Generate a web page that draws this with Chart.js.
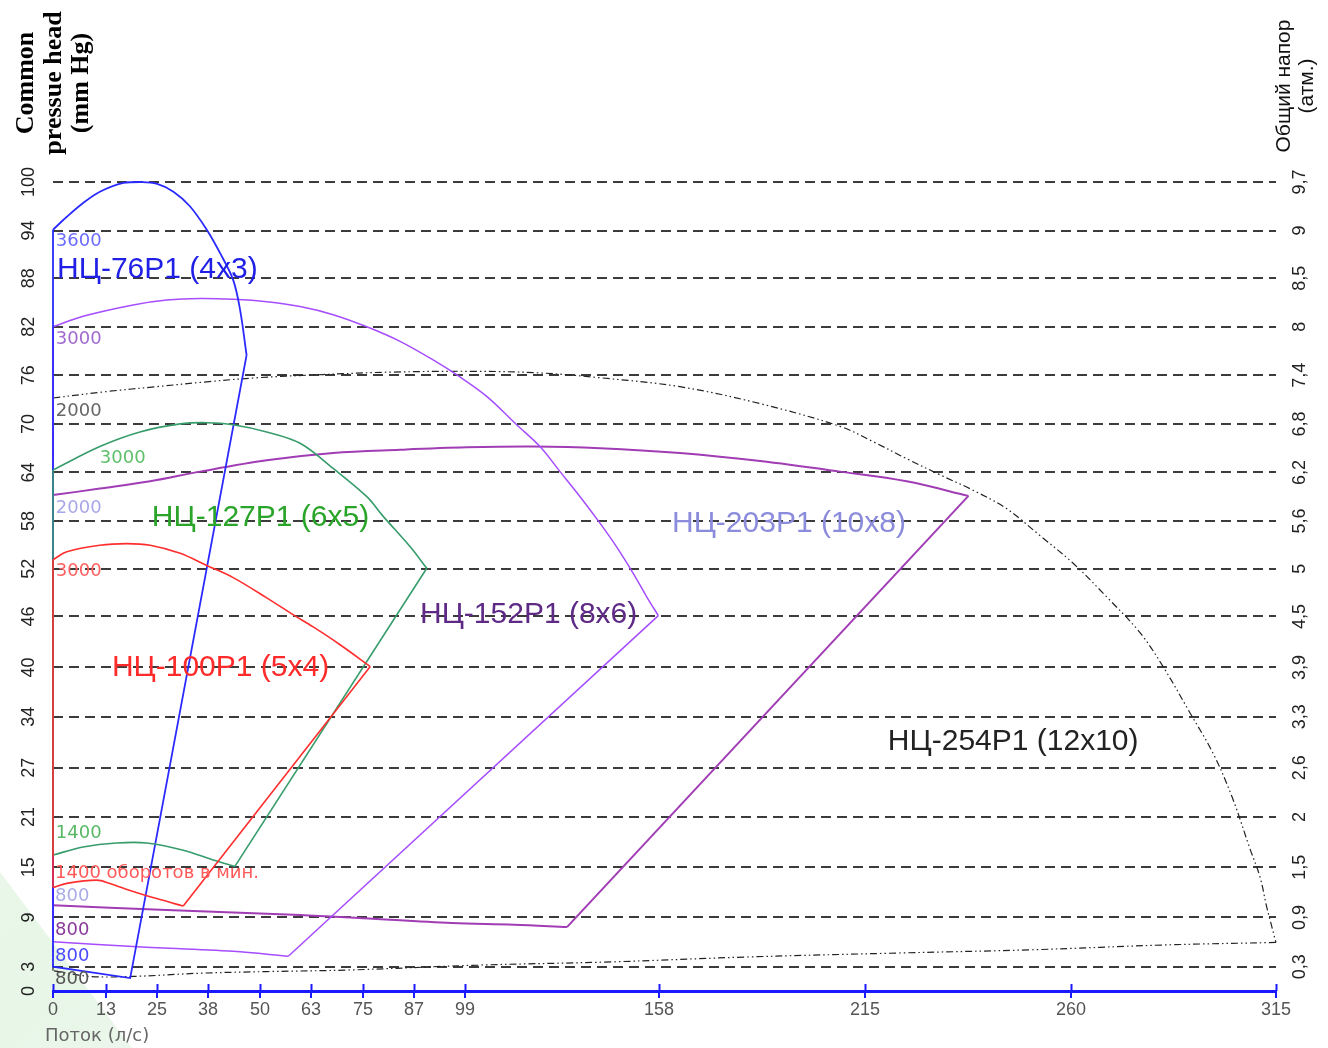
<!DOCTYPE html>
<html>
<head>
<meta charset="utf-8">
<script src="https://cdn.jsdelivr.net/npm/chart.js@4.4.1/dist/chart.umd.min.js"></script>
<style>
html,body{margin:0;padding:0;background:#fff;}
#wrap{position:relative;width:1328px;height:1048px;}
</style>
</head>
<body>
<div id="wrap"><canvas id="c" width="1328" height="1048"></canvas></div>
<script>
// ---------- axis ticks ----------
const X_TICKS = [0, 13, 25, 38, 50, 63, 75, 87, 99, 158, 215, 260, 315];
// where each flow tick sits along the (non-uniform) flow axis, 0..1
const X_TICK_AT = [0, 0.0433, 0.0850, 0.1267, 0.1693, 0.2110, 0.2535, 0.2952, 0.3369, 0.4955, 0.6639, 0.8324, 1];
const Y_TICKS = [0, 3, 9.1, 15.3, 21.5, 27.6, 33.9, 40, 46.3, 52.2, 58.1, 64.1, 70.1, 76.1, 82.1, 88.1, 94, 100];
const Y_LEFT_LABELS = ['0','3','9','15','21','27','34','40','46','52','58','64','70','76','82','88','94','100'];
const Y_RIGHT_LABELS = ['0,3','0,9','1,5','2','2,6','3,3','3,9','4,5','5','5,6','6,2','6,8','7,4','8','8,5','9','9,7'];

// ---------- pump envelopes: flow (l/s) and head (mm Hg), closed outlines ----------
const NC76_FLOW = [0, 3.4, 7.4, 11.5, 17.1, 21.0, 24.9, 29.2, 33.4, 37.7, 40.8, 43.8, 45.4, 46.9, 18.7, 0, 0];
const NC76_HEAD = [94.1, 95.7, 97.4, 98.8, 99.9, 100, 99.8, 98.8, 97.0, 94.1, 91.2, 87.9, 84.2, 78.6, 1.6, 3.0, 94.1];

const NC100_FLOW = [0, 3.4, 11.5, 17.9, 23.4, 30.9, 37.7, 43.8, 51.7, 58.5, 63.5, 69.7, 76.7, 31.7, 25.8, 19.4, 13.9, 10.7, 3.4, 0, 0];
const NC100_HEAD = [53.3, 54.3, 55.1, 55.3, 55.1, 54.1, 52.6, 51.1, 48.6, 46.5, 45.0, 42.8, 40.1, 10.5, 11.3, 12.3, 13.3, 13.7, 13.3, 12.8, 53.3];

const NC127_FLOW = [0, 11.5, 21.0, 30.9, 37.7, 43.8, 51.7, 60.2, 68.1, 75.9, 79.7, 86.1, 90.0, 44.2, 39.2, 31.7, 22.6, 15.5, 7.4, 0, 0];
const NC127_HEAD = [64.4, 67.3, 69.1, 70.1, 70.25, 70.0, 69.1, 67.7, 64.6, 61.1, 58.7, 54.9, 52.25, 15.4, 16.2, 17.4, 18.3, 18.3, 17.8, 16.8, 64.4];

const NC152_FLOW = [0, 7.4, 19.4, 27.5, 36.0, 43.8, 51.7, 60.2, 68.1, 75.9, 83.7, 91.5, 97.8, 105.6, 114.7, 121.8, 127.9, 134.0, 140.1, 145.1, 150.2, 154.3, 157.8, 57.2, 43.8, 19.4, 0, 0];
const NC152_HEAD = [82.1, 83.4, 84.8, 85.4, 85.6, 85.5, 85.2, 84.6, 83.6, 82.1, 80.3, 78.0, 75.9, 73.5, 70.0, 67.3, 64.2, 61.1, 57.8, 54.9, 51.6, 48.7, 46.4, 4.3, 4.9, 5.5, 6.1, 82.1];

const NC203_FLOW = [0, 11.5, 23.4, 36.0, 51.7, 68.1, 83.7, 99.5, 119.7, 140.1, 163.8, 186.0, 208.1, 224.1, 237.6, 130.0, 113.9, 95.9, 74.9, 60.2, 27.5, 0, 0];
const NC203_HEAD = [61.3, 62.1, 63.0, 64.2, 65.6, 66.5, 66.9, 67.2, 67.3, 67.1, 66.5, 65.5, 64.2, 63.0, 61.2, 7.9, 8.2, 8.4, 9.0, 9.4, 10.0, 10.6, 61.3];

const NC254_FLOW = [0, 13.2, 24.9, 37.7, 49.2, 65.8, 81.4, 101.4, 121.8, 140.1, 163.8, 186.0, 208.1, 216.8, 224.1, 231.4, 238.6, 246.0, 253.2, 260.5, 269.6, 278.5, 284.7, 291.9, 298.1, 303.2, 308.0, 310.7, 312.5, 313.4, 314.8, 315, 285.7, 251.7, 222.6, 182.1, 143.7, 103.0, 72.0, 51.7, 36.0, 19.4, 9.1, 0, 0];
const NC254_HEAD = [73.3, 74.1, 74.7, 75.3, 75.8, 76.2, 76.5, 76.6, 76.4, 75.8, 74.7, 72.6, 69.8, 67.9, 65.8, 63.8, 61.9, 59.6, 56.3, 52.9, 48.7, 44.3, 40.1, 34.4, 29.4, 24.0, 17.6, 14.1, 10.4, 8.8, 6.3, 6.0, 5.7, 5.1, 4.7, 4.2, 3.6, 3.2, 2.6, 2.4, 2.2, 1.8, 1.8, 2.5, 73.3];

// index spans of each outline that are smooth speed curves (the rest are straight edges)
const NC76_CURVES = [[0, 13]];
const NC100_CURVES = [[0, 12], [13, 19]];
const NC127_CURVES = [[0, 12], [13, 19]];
const NC152_CURVES = [[0, 22], [23, 26]];
const NC203_CURVES = [[0, 14], [15, 21]];
const NC254_CURVES = [[0, 31], [31, 43]];

// ---------- curve annotations ----------
const NOTE_TEXT = ['3600', 'НЦ-76Р1 (4х3)', '3000', '2000', '3000', '2000', 'НЦ-127Р1 (6х5)', '3000', 'НЦ-100Р1 (5х4)', 'НЦ-152Р1 (8х6)', 'НЦ-203Р1 (10х8)', 'НЦ-254Р1 (12х10)', '1400', '1400 оборотов в мин.', '800', '800', '800', '800'];
const NOTE_FLOW = [0.7, 1.0, 0.7, 0.7, 11.5, 0.7, 23.8, 0.7, 14.4, 88.4, 161.6, 220.0, 0.7, 0.5, 0.5, 0.5, 0.5, 0.5];
const NOTE_HEAD = [92.7, 89.1, 80.6, 71.7, 65.8, 59.7, 58.5, 51.9, 39.9, 46.5, 57.7, 30.8, 19.5, 14.5, 11.7, 7.5, 4.3, 1.4];

// ---------- styles ----------
const NOTE_COLOR = ['#6b6bff', '#1f1fe6', '#a06ad0', '#666666', '#5fbf6a', '#a8a8e8', '#2aa52a', '#ff6060', '#ff2a2a', '#5e2a86', '#8c8cdc', '#222222', '#58b864', '#ff5a5a', '#ababe6', '#8a3a9a', '#4a4aff', '#555555'];
const NOTE_BIG = [false, true, false, false, false, false, true, false, true, true, true, true, false, false, false, false, false, false];

function flowToFrac(v) {
  const n = X_TICKS.length;
  let i = 1;
  while (i < n - 1 && v > X_TICKS[i]) i++;
  const t = (v - X_TICKS[i - 1]) / (X_TICKS[i] - X_TICKS[i - 1]);
  return X_TICK_AT[i - 1] + t * (X_TICK_AT[i] - X_TICK_AT[i - 1]);
}
function fracToFlow(f) {
  const n = X_TICK_AT.length;
  let i = 1;
  while (i < n - 1 && f > X_TICK_AT[i]) i++;
  const t = (f - X_TICK_AT[i - 1]) / (X_TICK_AT[i] - X_TICK_AT[i - 1]);
  return X_TICKS[i - 1] + t * (X_TICKS[i] - X_TICKS[i - 1]);
}

class FlowScale extends Chart.LinearScale {
  getPixelForValue(value) {
    if (value === null || value === undefined || isNaN(value)) return NaN;
    return this.getPixelForDecimal(flowToFrac(value));
  }
  getValueForPixel(pixel) {
    return fracToFlow(this.getDecimalForPixel(pixel));
  }
}
FlowScale.id = 'flow';
FlowScale.defaults = Chart.LinearScale.defaults;
Chart.register(FlowScale);

const AXIS_BLUE = '#1a1aff';
const SANS = '"Liberation Sans", Arial, sans-serif';

// split a closed outline into smooth curve pieces and straight edge pieces
function outline(label, fx, hy, curves, color, width, dash) {
  const pts = fx.map((x, i) => ({x: x, y: hy[i]}));
  const last = pts.length - 1;
  const pieces = [];
  let pos = 0;
  curves.forEach(([a, b]) => {
    if (a > pos) pieces.push({from: pos, to: a, smooth: false});
    pieces.push({from: a, to: b, smooth: true});
    pos = b;
  });
  if (pos < last) pieces.push({from: pos, to: last, smooth: false});
  return pieces.map(p => ({
    label: label, data: pts.slice(p.from, p.to + 1), showLine: true, fill: false,
    borderColor: color, borderWidth: width, borderDash: dash || [],
    pointRadius: 0, pointHoverRadius: 0, tension: p.smooth ? 0.35 : 0, clip: 4
  }));
}

const decor = {
  id: 'decor',
  beforeDraw(chart) {
    const ctx = chart.ctx;
    ctx.save();
    ctx.fillStyle = '#ffffff';
    ctx.fillRect(0, 0, chart.width, chart.height);
    const g = ctx.createLinearGradient(0, 880, 130, 1048);
    g.addColorStop(0, 'rgba(215,240,215,0.55)');
    g.addColorStop(1, 'rgba(232,246,232,0.9)');
    ctx.fillStyle = g;
    ctx.beginPath();
    ctx.moveTo(0, 872);
    ctx.lineTo(132, 1048);
    ctx.lineTo(0, 1048);
    ctx.closePath();
    ctx.fill();
    ctx.restore();
  },
  afterDraw(chart) {
    const ctx = chart.ctx;
    const xs = chart.scales.x, ys = chart.scales.y;
    const yb = chart.chartArea.bottom;
    ctx.save();
    // tick marks above the flow axis
    ctx.strokeStyle = AXIS_BLUE;
    ctx.lineWidth = 2;
    ctx.beginPath();
    X_TICKS.forEach(v => {
      const px = Math.round(xs.getPixelForValue(v)) + 0.5;
      ctx.moveTo(px, yb - 7);
      ctx.lineTo(px, yb);
    });
    ctx.stroke();

    // curve notes
    ctx.textAlign = 'left';
    ctx.textBaseline = 'middle';
    NOTE_TEXT.forEach((t, i) => {
      ctx.font = NOTE_BIG[i] ? '30px ' + SANS : '18px "DejaVu Sans", sans-serif';
      ctx.fillStyle = NOTE_COLOR[i];
      ctx.fillText(t, xs.getPixelForValue(NOTE_FLOW[i]), ys.getPixelForValue(NOTE_HEAD[i]));
    });

    // axis titles
    const rot = (lines, xsPos, cy, font, color) => {
      lines.forEach((t, i) => {
        ctx.save();
        ctx.translate(xsPos[i], cy);
        ctx.rotate(-Math.PI / 2);
        ctx.font = font;
        ctx.fillStyle = color;
        ctx.textAlign = 'center';
        ctx.textBaseline = 'alphabetic';
        ctx.fillText(t, 0, 0);
        ctx.restore();
      });
    };
    rot(['Common', 'pressue head', '(mm Hg)'], [33, 61, 88], 83, 'bold 26px "Liberation Serif", "Times New Roman", serif', '#000');
    rot(['Общий напор', '(атм.)'], [1290, 1313], 86, '21px ' + SANS, '#111');

    ctx.font = '18px "DejaVu Sans", sans-serif';
    ctx.fillStyle = '#666';
    ctx.textAlign = 'left';
    ctx.textBaseline = 'middle';
    ctx.fillText('Поток (л/с)', 45, 1036);
    ctx.restore();
  }
};

new Chart(document.getElementById('c'), {
  type: 'scatter',
  data: {
    datasets: [].concat(
      outline('НЦ-100Р1 (5х4)', NC100_FLOW, NC100_HEAD, NC100_CURVES, '#ff2e2e', 1.6),
      outline('НЦ-127Р1 (6х5)', NC127_FLOW, NC127_HEAD, NC127_CURVES, '#379c6c', 1.6),
      outline('НЦ-76Р1 (4х3)', NC76_FLOW, NC76_HEAD, NC76_CURVES, '#2a2aff', 1.8),
      outline('НЦ-152Р1 (8х6)', NC152_FLOW, NC152_HEAD, NC152_CURVES, '#a64dff', 1.5),
      outline('НЦ-203Р1 (10х8)', NC203_FLOW, NC203_HEAD, NC203_CURVES, '#a03cb4', 2),
      outline('НЦ-254Р1 (12х10)', NC254_FLOW, NC254_HEAD, NC254_CURVES, '#222222', 1.2, [7, 3, 1.5, 3, 1.5, 3])
    )
  },
  options: {
    responsive: false,
    animation: false,
    layout: {padding: {top: 182, left: 0, right: 0, bottom: 0}},
    plugins: {legend: {display: false}, tooltip: {enabled: false}},
    scales: {
      x: {
        type: 'flow', min: 0, max: 315,
        afterBuildTicks: s => { s.ticks = X_TICKS.map(v => ({value: v})); },
        afterFit: s => { s.height = 57; },
        ticks: {
          autoSkip: false, minRotation: 0, maxRotation: 0, padding: 1,
          color: '#555', font: {family: SANS, size: 18},
          callback: (v, i) => String(X_TICKS[i])
        },
        grid: {drawOnChartArea: false, drawTicks: true, tickLength: 7, color: AXIS_BLUE, lineWidth: 2},
        border: {display: true, color: AXIS_BLUE, width: 3}
      },
      y: {
        type: 'linear', position: 'left', min: 0, max: 100,
        afterBuildTicks: s => { s.ticks = Y_TICKS.map(v => ({value: v})); },
        afterFit: s => { s.width = 53; },
        ticks: {
          autoSkip: false, minRotation: 90, maxRotation: 90, crossAlign: 'center', padding: 9,
          color: '#222', font: {family: SANS, size: 18},
          callback: (v, i) => Y_LEFT_LABELS[i]
        },
        grid: {
          drawTicks: false, lineWidth: 2,
          color: c => (c.tick && c.tick.value === 0) ? 'rgba(0,0,0,0)' : '#3c3c3c'
        },
        border: {display: false, dash: [10, 6]}
      },
      y2: {
        type: 'linear', position: 'right', min: 0, max: 100,
        afterBuildTicks: s => { s.ticks = Y_TICKS.slice(1).map(v => ({value: v})); },
        afterFit: s => { s.width = 52; },
        ticks: {
          autoSkip: false, minRotation: 90, maxRotation: 90, crossAlign: 'center', padding: 4,
          color: '#222', font: {family: SANS, size: 18},
          callback: (v, i) => Y_RIGHT_LABELS[i]
        },
        grid: {display: false},
        border: {display: false}
      }
    }
  },
  plugins: [decor]
});
</script>
</body>
</html>
